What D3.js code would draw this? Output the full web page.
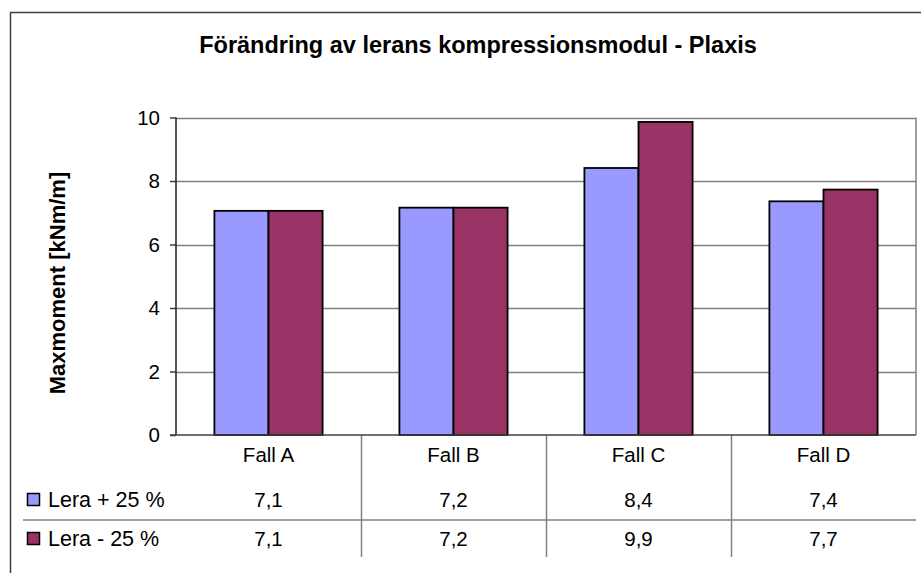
<!DOCTYPE html>
<html>
<head>
<meta charset="utf-8">
<script src="https://cdn.jsdelivr.net/npm/d3@7"></script>
<style>
  body { margin: 0; background: #fff; }
  svg { display: block; font-family: "Liberation Sans", Arial, sans-serif; }
</style>
</head>
<body>
<svg></svg>
<script>
  //Categories and series
  const categories = ['Fall A', 'Fall B', 'Fall C', 'Fall D'];
  const seriesNames = ['Lera + 25 %', 'Lera - 25 %'];
  const plusValues = [7.06, 7.16, 8.41, 7.36];
  const minusValues = [7.06, 7.16, 9.86, 7.73];
  const yTicks = [0, 2, 4, 6, 8, 10];
  const seriesColors = ['#9999ff', '#993366'];

  const width = 921;
  const height = 573;
  const textSize = 20.5;

  const svg = d3.select('svg')
    .attr('width', width)
    .attr('height', height);

  //Outer chart border (right and bottom edges fall outside the picture)
  svg.append('rect')
    .attr('x', 10.5)
    .attr('y', 12.5)
    .attr('width', 1000)
    .attr('height', 1000)
    .attr('fill', 'none')
    .attr('stroke', '#3f3f3f')
    .attr('stroke-width', 1.5);

  //Plot area
  const plot = { left: 176, right: 916, top: 117.5, bottom: 435 };

  const x = d3.scaleBand()
    .domain(categories)
    .range([plot.left, plot.right]);

  const x1 = d3.scaleBand()
    .domain([0, 1])
    .range([0, x.bandwidth()])
    .paddingOuter(0.71)
    .paddingInner(0);

  const y = d3.scaleLinear()
    .domain([0, 10])
    .range([plot.bottom, plot.top]);

  //Title
  svg.append('text')
    .attr('x', 478)
    .attr('y', 53)
    .attr('text-anchor', 'middle')
    .attr('font-size', 23.5)
    .attr('font-weight', 'bold')
    .text('Förändring av lerans kompressionsmodul - Plaxis');

  //Gridlines
  svg.append('g')
    .selectAll('line')
    .data(yTicks.filter(d => d > 0))
    .enter().append('line')
    .attr('x1', plot.left)
    .attr('x2', plot.right)
    .attr('y1', d => Math.round(y(d)) + 0.5)
    .attr('y2', d => Math.round(y(d)) + 0.5)
    .attr('stroke', '#808080')
    .attr('stroke-width', 1.5);

  //Right edge of plot area
  svg.append('line')
    .attr('x1', plot.right)
    .attr('x2', plot.right)
    .attr('y1', plot.top)
    .attr('y2', plot.bottom)
    .attr('stroke', '#808080')
    .attr('stroke-width', 1.5);

  //Bars
  const rows = [plusValues, minusValues];
  const barGroups = svg.append('g')
    .selectAll('g')
    .data(categories)
    .enter().append('g')
    .attr('transform', d => `translate(${x(d)},0)`);

  barGroups.selectAll('rect')
    .data((d, i) => rows.map((r, s) => ({ s: s, v: r[i] })))
    .enter().append('rect')
    .attr('x', d => x1(d.s))
    .attr('y', d => y(d.v))
    .attr('width', x1.bandwidth())
    .attr('height', d => y(0) - y(d.v))
    .attr('fill', d => seriesColors[d.s])
    .attr('stroke', '#000')
    .attr('stroke-width', 1.8);

  //Y axis
  const yAxis = d3.axisLeft(y)
    .tickValues(yTicks)
    .tickSize(6)
    .tickPadding(10);

  const yAxisG = svg.append('g')
    .attr('transform', `translate(${plot.left},0)`)
    .call(yAxis);
  yAxisG.select('.domain').remove();
  yAxisG.selectAll('.tick line')
    .attr('stroke', '#404040')
    .attr('stroke-width', 1.5);
  yAxisG.selectAll('.tick text')
    .attr('font-size', textSize)
    .attr('font-family', '"Liberation Sans", Arial, sans-serif')
    .attr('fill', '#000');

  svg.append('line')
    .attr('x1', plot.left)
    .attr('x2', plot.left)
    .attr('y1', plot.top)
    .attr('y2', plot.bottom)
    .attr('stroke', '#202020')
    .attr('stroke-width', 1.5);

  //Axis title
  svg.append('text')
    .attr('transform', 'translate(65,283) rotate(-90)')
    .attr('text-anchor', 'middle')
    .attr('font-size', 22)
    .attr('font-weight', 'bold')
    .text('Maxmoment [kNm/m]');

  //Data table below the axis
  const tableBottom = 557;
  const rowMid = 520;

  svg.append('g')
    .selectAll('line')
    .data(categories.slice(1))
    .enter().append('line')
    .attr('x1', d => Math.round(x(d)) + 0.5)
    .attr('x2', d => Math.round(x(d)) + 0.5)
    .attr('y1', plot.bottom)
    .attr('y2', tableBottom)
    .attr('stroke', '#808080')
    .attr('stroke-width', 1.5);

  svg.append('line')
    .attr('x1', 23)
    .attr('x2', plot.right)
    .attr('y1', rowMid)
    .attr('y2', rowMid)
    .attr('stroke', '#808080')
    .attr('stroke-width', 1.5);

  //Bottom axis line
  svg.append('line')
    .attr('x1', 170)
    .attr('x2', plot.right)
    .attr('y1', plot.bottom)
    .attr('y2', plot.bottom)
    .attr('stroke', '#404040')
    .attr('stroke-width', 1.5);

  //Category labels
  svg.append('g')
    .selectAll('text')
    .data(categories)
    .enter().append('text')
    .attr('x', d => x(d) + x.bandwidth() / 2)
    .attr('y', 461.5)
    .attr('text-anchor', 'middle')
    .attr('font-size', textSize)
    .text(d => d);

  const fmt = v => d3.format('.1f')(v).replace('.', ',');
  const rowY = [500, 539];

  rows.forEach((r, s) => {
    const g = svg.append('g');
    g.append('rect')
      .attr('x', 27.5)
      .attr('y', rowY[s] - 6.5)
      .attr('width', 12)
      .attr('height', 12)
      .attr('fill', seriesColors[s])
      .attr('stroke', '#000')
      .attr('stroke-width', 1.5);
    g.append('text')
      .attr('x', 48)
      .attr('y', rowY[s] + 7)
      .attr('font-size', 21.5)
      .text(seriesNames[s]);
    g.selectAll('text.val')
      .data(r)
      .enter().append('text')
      .attr('class', 'val')
      .attr('x', (d, i) => x(categories[i]) + x.bandwidth() / 2)
      .attr('y', rowY[s] + 7)
      .attr('text-anchor', 'middle')
      .attr('font-size', textSize)
      .text(d => fmt(d));
  });
</script>
</body>
</html>
